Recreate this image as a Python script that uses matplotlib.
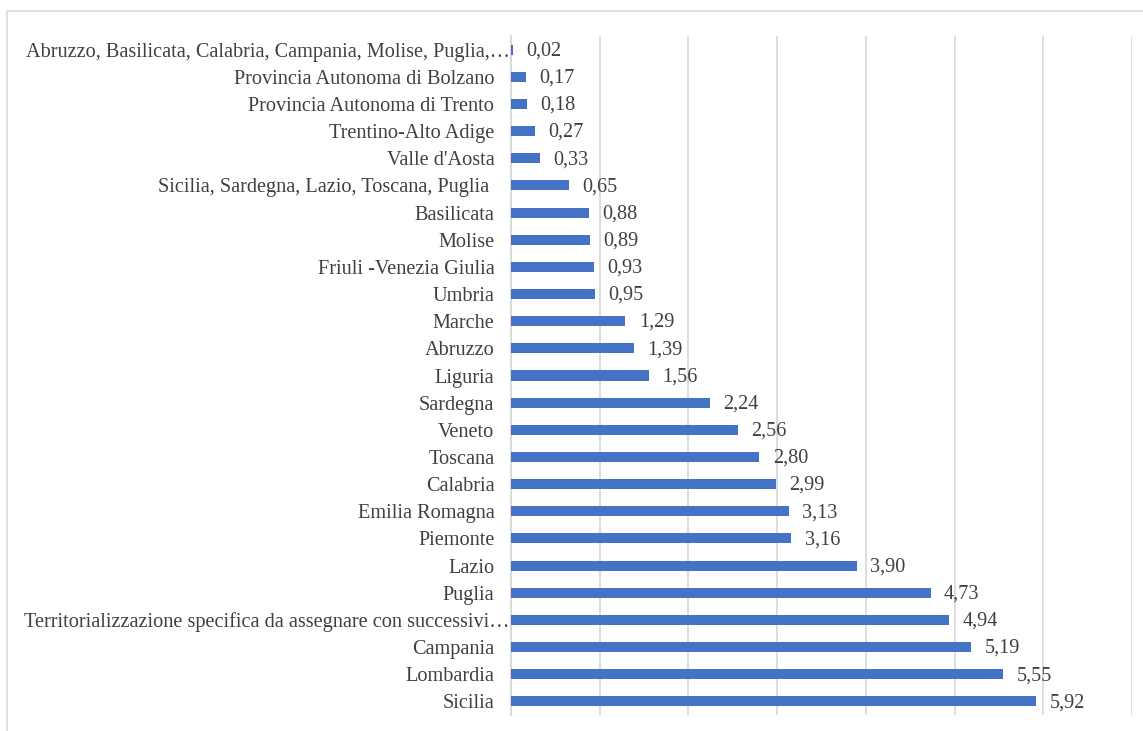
import matplotlib.pyplot as plt
from matplotlib.patches import Rectangle

# DATA (top to bottom as shown)
regions = [
    "Abruzzo, Basilicata, Calabria, Campania, Molise, Puglia,\u2026",
    "Provincia Autonoma di Bolzano",
    "Provincia Autonoma di Trento",
    "Trentino-Alto Adige",
    "Valle d'Aosta",
    "Sicilia, Sardegna, Lazio, Toscana, Puglia ",
    "Basilicata",
    "Molise",
    "Friuli -Venezia Giulia",
    "Umbria",
    "Marche",
    "Abruzzo",
    "Liguria",
    "Sardegna",
    "Veneto",
    "Toscana",
    "Calabria",
    "Emilia Romagna",
    "Piemonte",
    "Lazio",
    "Puglia",
    "Territorializzazione specifica da assegnare con successivi\u2026",
    "Campania",
    "Lombardia",
    "Sicilia",
]
values = [0.02, 0.17, 0.18, 0.27, 0.33, 0.65, 0.88, 0.89, 0.93, 0.95,
          1.29, 1.39, 1.56, 2.24, 2.56, 2.80, 2.99, 3.13, 3.16, 3.90,
          4.73, 4.94, 5.19, 5.55, 5.92]
truncated = [0, 21]

plt.rcParams["font.family"] = ["Liberation Serif", "DejaVu Serif"]
text_color = "#404040"
grid_color = "#d9d9d9"
fs = 14.6

fig = plt.figure(figsize=(11.43, 7.31), dpi=100)
ax = fig.add_axes([511 / 1143, 1 - 715 / 731, (1132 - 511) / 1143, (715 - 36) / 731])

# outer frame
fig.patches.append(Rectangle((7 / 1143, -0.1), 1.2, 1 - 11 / 731 + 0.1,
                             transform=fig.transFigure, fill=False,
                             edgecolor=grid_color, linewidth=1.2))

n = len(values)
ypos = [n - 1 - i for i in range(n)]
ax.barh(ypos, values, height=0.37, color="#4472C4", zorder=3)

for y, v in zip(ypos, values):
    ax.text(v + 0.15, y - 0.05, f"{v:.2f}".replace(".", ","), va="center", ha="left",
            fontsize=fs, color=text_color)

ax.set_xlim(0, 7)
ax.set_ylim(-0.5, n - 0.5)
ax.set_xticks(range(0, 8))
ax.set_xticklabels([])
ax.grid(axis="x", color=grid_color, linewidth=1.3, zorder=0)
ax.set_yticks(ypos)
ax.set_yticklabels(regions, fontsize=fs, color=text_color)
ax.tick_params(axis="both", length=0)
ax.tick_params(axis="y", pad=12)
ticks = ax.yaxis.get_major_ticks()
for i in truncated:
    ticks[i].set_pad(1)

for s in ["top", "right", "bottom"]:
    ax.spines[s].set_visible(False)
ax.spines["left"].set_color(grid_color)
ax.spines["left"].set_linewidth(1.3)

fig.savefig("out.png", dpi=100)
